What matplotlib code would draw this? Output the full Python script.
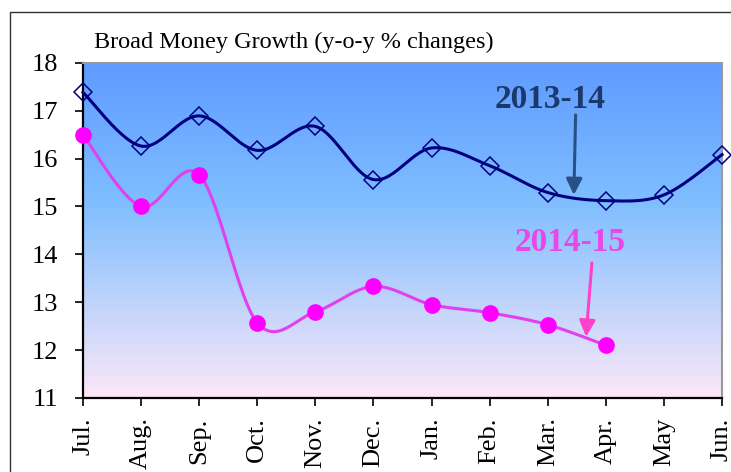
import numpy as np
import matplotlib.pyplot as plt
from matplotlib.colors import LinearSegmentedColormap
from matplotlib.patches import Rectangle

months = ['Jul.', 'Aug.', 'Sep.', 'Oct.', 'Nov.', 'Dec.', 'Jan.', 'Feb.', 'Mar.', 'Apr.', 'May', 'Jun.']
growth_1314 = [17.38, 16.26, 16.89, 16.17, 16.67, 15.56, 16.22, 15.85, 15.29, 15.12, 15.24, 16.08]
growth_1415 = [16.49, 15.00, 15.66, 12.57, 12.80, 13.33, 12.95, 12.78, 12.53, 12.10]
yticks = [11, 12, 13, 14, 15, 16, 17, 18]


def smooth(xs, ys, n=30):
    # catmull-rom style bezier, like excel's smoothed line
    xs = np.asarray(xs, float)
    ys = np.asarray(ys, float)
    px, py = [], []
    t = np.linspace(0, 1, n)
    for i in range(len(xs) - 1):
        i0 = max(i - 1, 0)
        i3 = min(i + 2, len(xs) - 1)
        c1x = xs[i] + (xs[i + 1] - xs[i0]) / 6
        c1y = ys[i] + (ys[i + 1] - ys[i0]) / 6
        c2x = xs[i + 1] - (xs[i3] - xs[i]) / 6
        c2y = ys[i + 1] - (ys[i3] - ys[i]) / 6
        bx = (1 - t)**3 * xs[i] + 3 * (1 - t)**2 * t * c1x + 3 * (1 - t) * t**2 * c2x + t**3 * xs[i + 1]
        by = (1 - t)**3 * ys[i] + 3 * (1 - t)**2 * t * c1y + 3 * (1 - t) * t**2 * c2y + t**3 * ys[i + 1]
        px.extend(bx)
        py.extend(by)
    return px, py


plt.rcParams['font.family'] = 'Liberation Serif'

fig = plt.figure(figsize=(7.31, 4.72), dpi=100)
fig.patches.append(Rectangle((10 / 731, -0.1), 1.2, 1.1 - 12 / 472, transform=fig.transFigure,
                             fill=False, edgecolor='#333333', linewidth=1.0))
ax = fig.add_axes([83 / 731, 1 - 398 / 472, (722 - 83) / 731, (398 - 62.7) / 472])

# gradient background, blue on top fading to pale pink
cmap = LinearSegmentedColormap.from_list('bg', [(0, '#5E9BFF'), (0.42, '#80BEFF'), (1, '#FCE8F8')])
grad = np.linspace(0, 1, 256).reshape(-1, 1)
ax.imshow(grad, cmap=cmap, extent=[0, 11, 11, 18], origin='upper', aspect='auto', zorder=0)

x1 = np.arange(len(growth_1314))
x2 = np.arange(len(growth_1415))

sx, sy = smooth(x1, growth_1314)
ax.plot(sx, sy, color='#000080', linewidth=2.2, zorder=3, clip_on=False)
ax.plot(x1, growth_1314, linestyle='none', marker='D', markersize=9, markerfacecolor='none',
        markeredgecolor='#000080', markeredgewidth=1.1, zorder=4, clip_on=False)

sx, sy = smooth(x2, growth_1415)
ax.plot(sx, sy, color='#E040F0', linewidth=2.2, zorder=3, clip_on=False)
ax.plot(x2, growth_1415, linestyle='none', marker='o', markersize=11, markerfacecolor='#FF00FF',
        markeredgecolor='#FF00FF', zorder=4, clip_on=False)

# series labels and arrows
ax.text(8.04, 17.24, '2013-14', ha='center', va='center', fontsize=24, fontweight='bold', color='#1B3A6B')
ax.annotate('', xy=(8.45, 15.24), xytext=(8.48, 16.91),
            arrowprops=dict(arrowstyle='-|>', color='#285087', lw=2.2, mutation_scale=24,
                            shrinkA=0, shrinkB=0))
ax.text(8.38, 14.24, '2014-15', ha='center', va='center', fontsize=24, fontweight='bold', color='#E848E8')
ax.annotate('', xy=(8.66, 12.28), xytext=(8.76, 13.82),
            arrowprops=dict(arrowstyle='-|>', color='#FF40C8', lw=2.2, mutation_scale=24,
                            shrinkA=0, shrinkB=0))

ax.set_xlim(0, 11)
ax.set_ylim(11, 18)
ax.set_xticks(x1)
ax.set_xticklabels(months, rotation=90, fontsize=19)
ax.set_yticks(yticks)
ax.set_yticklabels([str(v) for v in yticks], fontsize=19)
ax.tick_params(direction='out', length=6, width=1.2, color='black')
ax.tick_params(axis='x', pad=8)
ax.tick_params(axis='y', pad=12)
ax.spines['left'].set_linewidth(1.6)
ax.spines['bottom'].set_linewidth(1.6)
ax.spines['top'].set_color('#999999')
ax.spines['right'].set_color('#999999')
ax.spines['top'].set_linewidth(1.5)
ax.spines['right'].set_linewidth(1.5)

fig.text(294 / 731, 1 - 42 / 472, 'Broad Money Growth (y-o-y % changes)', ha='center', va='center', fontsize=17.5)

fig.savefig('out.png', dpi=100)
